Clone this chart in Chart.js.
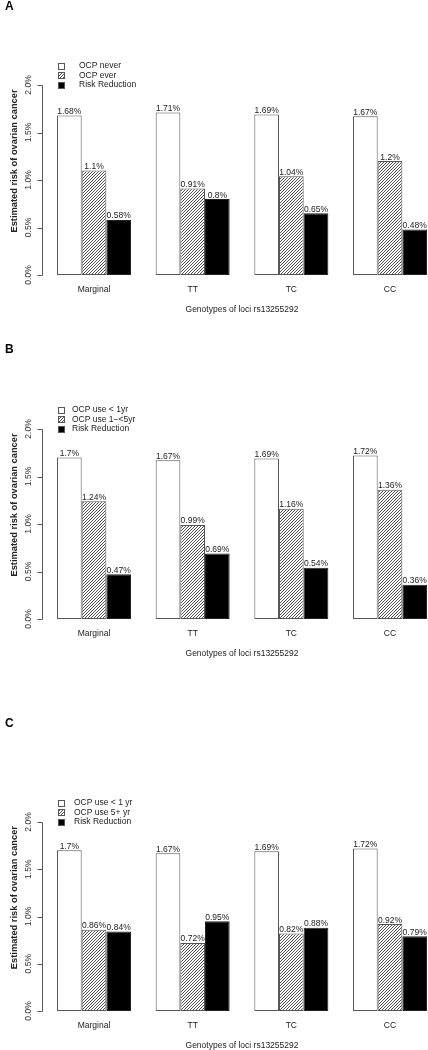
<!DOCTYPE html>
<html><head><meta charset="utf-8">
<script src="https://cdn.jsdelivr.net/npm/chart.js@4.4.1/dist/chart.umd.min.js"></script>
<style>
html,body{margin:0;padding:0;background:#fff;overflow:hidden;width:428px;height:1050px;position:relative;}
canvas{position:absolute;left:0;}
</style></head><body>
<canvas id="cA"></canvas><canvas id="cB"></canvas><canvas id="cC"></canvas>
<script>
// ---- data ----
const categories = ['Marginal', 'TT', 'TC', 'CC'];
const yTicks = [0, 0.5, 1.0, 1.5, 2.0];
const yTickLabels = ['0.0%', '0.5%', '1.0%', '1.5%', '2.0%'];
const xTitle = 'Genotypes of loci rs13255292';
const yTitle = 'Estimated risk of ovarian cancer';

const legendA = ['OCP never', 'OCP ever', 'Risk Reduction'];
const neverA = [1.68, 1.71, 1.69, 1.67];
const everA = [1.1, 0.91, 1.04, 1.2];
const reductionA = [0.58, 0.8, 0.65, 0.48];

const legendB = ['OCP use < 1yr', 'OCP use 1\u2212<5yr', 'Risk Reduction'];
const under1B = [1.7, 1.67, 1.69, 1.72];
const oneToFiveB = [1.24, 0.99, 1.16, 1.36];
const reductionB = [0.47, 0.69, 0.54, 0.36];

const legendC = ['OCP use < 1 yr', 'OCP use 5+ yr', 'Risk Reduction'];
const under1C = [1.7, 1.67, 1.69, 1.72];
const fivePlusC = [0.86, 0.72, 0.82, 0.92];
const reductionC = [0.84, 0.95, 0.88, 0.79];

// ---- styling ----
const FONT = '"Liberation Sans", Arial, Helvetica, sans-serif';
const W = 445;
const TEXT = '#222';
const LINE = '#555';

function hatch() {
  const c = document.createElement('canvas');
  c.width = 3; c.height = 3;
  const g = c.getContext('2d');
  g.fillStyle = '#fff'; g.fillRect(0, 0, 3, 3);
  g.strokeStyle = '#3c3c3c'; g.lineWidth = 0.9;
  g.beginPath();
  g.moveTo(-1, 4); g.lineTo(4, -1);
  g.moveTo(-1, 1); g.lineTo(1, -1);
  g.moveTo(2, 4); g.lineTo(4, 2);
  g.stroke();
  return g.createPattern(c, 'repeat');
}

function panelPlugin(cfg) {
  return {
    id: 'panelDecor' + cfg.letter,
    afterDatasetsDraw(chart) {
      const ctx = chart.ctx;
      ctx.save();
      ctx.fillStyle = TEXT;
      ctx.font = '8.5px ' + FONT;
      ctx.textAlign = 'center';
      ctx.textBaseline = 'alphabetic';
      chart.data.datasets.forEach((ds, di) => {
        const meta = chart.getDatasetMeta(di);
        meta.data.forEach((el, i) => {
          ctx.fillText(ds.data[i] + '%', el.x, el.y - 1.5);
        });
      });
      ctx.restore();
    },
    afterDraw(chart) {
      const ctx = chart.ctx;
      const ys = chart.scales.y, xs = chart.scales.x, ca = chart.chartArea;
      ctx.save();
      // y axis (R style)
      const ax = 42.5;
      ctx.strokeStyle = LINE; ctx.lineWidth = 1;
      ctx.beginPath();
      const yb = Math.round(ys.getPixelForValue(yTicks[0])) + 0.5;
      const yt = Math.round(ys.getPixelForValue(yTicks[yTicks.length - 1])) + 0.5;
      ctx.moveTo(ax, yb); ctx.lineTo(ax, yt);
      yTicks.forEach(v => {
        const y = Math.round(ys.getPixelForValue(v)) + 0.5;
        ctx.moveTo(ax, y); ctx.lineTo(ax - 5, y);
      });
      ctx.stroke();
      ctx.fillStyle = '#333';
      ctx.font = '8.5px ' + FONT;
      ctx.textAlign = 'center'; ctx.textBaseline = 'middle';
      yTicks.forEach((v, i) => {
        ctx.save();
        ctx.translate(29, ys.getPixelForValue(v));
        ctx.rotate(-Math.PI / 2);
        ctx.fillText(yTickLabels[i], 0, 0);
        ctx.restore();
      });
      // y title
      ctx.fillStyle = TEXT;
      ctx.font = 'bold 9.3px ' + FONT;
      ctx.save();
      ctx.translate(14, ys.getPixelForValue(1.2));
      ctx.rotate(-Math.PI / 2);
      ctx.fillText(yTitle, 0, 0);
      ctx.restore();
      // category labels
      ctx.font = '8.5px ' + FONT;
      categories.forEach((c, i) => {
        ctx.fillText(c, xs.getPixelForValue(i), ca.bottom + 15);
      });
      // x title
      ctx.fillText(xTitle, 242, ca.bottom + 35);
      // legend
      const fills = chart.data.datasets.map(d => d.backgroundColor);
      const rows = [-19, -9.5, 0];
      ctx.textAlign = 'left';
      cfg.legend.forEach((t, i) => {
        const ry = ca.top + rows[i];
        ctx.fillStyle = fills[i];
        ctx.fillRect(58, Math.round(ry - 3.5), 7, 7);
        ctx.strokeStyle = LINE;
        ctx.strokeRect(58.5, Math.round(ry - 3.5) + 0.5, 6, 6);
        ctx.fillStyle = TEXT;
        ctx.fillText(t, cfg.legendX, ry);
      });
      // panel letter
      ctx.fillStyle = '#000';
      ctx.font = 'bold 12px ' + FONT;
      ctx.fillText(cfg.letter, 5, cfg.letterY - cfg.T);
      ctx.restore();
    }
  };
}

function makePanel(id, cfg) {
  const canvas = document.getElementById(id);
  canvas.width = W; canvas.height = cfg.H;
  canvas.style.top = cfg.T + 'px';
  canvas.style.width = W + 'px'; canvas.style.height = cfg.H + 'px';
  const pat = hatch();
  const fills = ['#ffffff', pat, '#000000'];
  const datasets = cfg.series.map((s, i) => ({
    label: cfg.legend[i],
    data: s,
    backgroundColor: fills[i],
    borderColor: i === 2 ? '#222' : LINE,
    borderWidth: 1,
    borderSkipped: false,
    barPercentage: 1,
    categoryPercentage: 0.75
  }));
  new Chart(canvas, {
    type: 'bar',
    data: { labels: categories, datasets },
    options: {
      responsive: false,
      animation: false,
      devicePixelRatio: 1,
      layout: { padding: { left: 44.67, right: W - 439.33, top: cfg.PT - cfg.T, bottom: cfg.T + cfg.H - cfg.PB } },
      plugins: { legend: { display: false }, tooltip: { enabled: false } },
      scales: {
        x: { type: 'category', display: false, offset: true },
        y: { min: 0, max: 2, display: false }
      }
    },
    plugins: [panelPlugin(cfg)]
  });
}

makePanel('cA', { letter: 'A', T: 0, H: 340, PT: 85, PB: 275, letterY: 7, legendX: 79,
  legend: legendA, series: [neverA, everA, reductionA] });
makePanel('cB', { letter: 'B', T: 340, H: 350, PT: 429, PB: 619, letterY: 350, legendX: 72,
  legend: legendB, series: [under1B, oneToFiveB, reductionB] });
makePanel('cC', { letter: 'C', T: 690, H: 360, PT: 822, PB: 1011, letterY: 724, legendX: 74,
  legend: legendC, series: [under1C, fivePlusC, reductionC] });
</script>
</body></html>
